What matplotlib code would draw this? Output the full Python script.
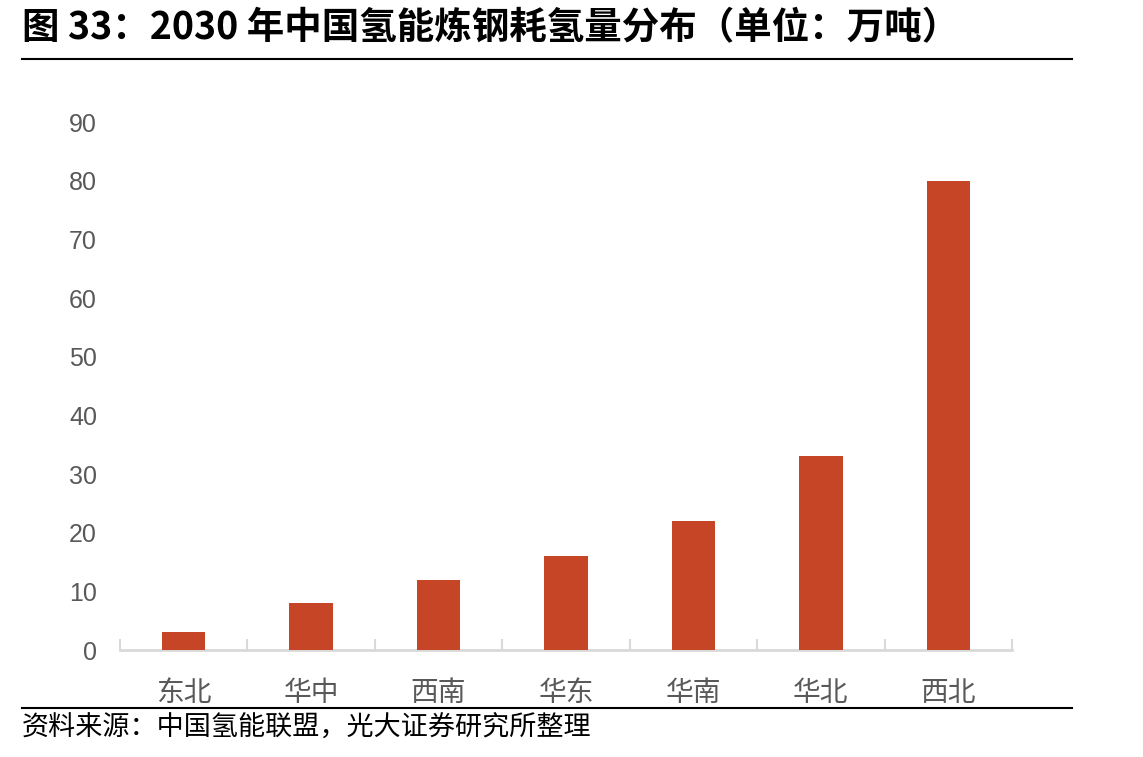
import matplotlib
matplotlib.use("Agg")
import matplotlib.pyplot as plt
from matplotlib.lines import Line2D
import numpy as np

plt.rcParams['font.family'] = ['Noto Sans CJK SC', 'DejaVu Sans']

categories = ["东北", "华中", "西南", "华东", "华南", "华北", "西北"]
values = [3, 8, 12, 16, 22, 33, 80]
yticks = [0, 10, 20, 30, 40, 50, 60, 70, 80, 90]

W, H = 1143, 757
fig = plt.figure(figsize=(W / 100, H / 100), dpi=100)
ax = fig.add_axes([120 / W, 1 - 650 / H, (1012 - 120) / W, (650 - 122) / H])

x = np.arange(len(categories))
ax.bar(x, values, width=0.34, color="#C64527", zorder=3)
ax.set_xlim(-0.5, len(categories) - 0.5)
ax.set_ylim(0, 90)
ax.set_yticks(yticks)
ax.set_yticklabels([str(v) for v in yticks], fontsize=18, color="#595959",
                   family=["Liberation Sans", "DejaVu Sans"])
ax.set_xticks(x)
ax.set_xticklabels(categories, fontsize=20, color="#595959")
ax.tick_params(axis="y", length=0, pad=16.5)
ax.tick_params(axis="x", length=0, pad=20)
ax.set_xticks(np.arange(-0.5, len(categories), 1.0), minor=True)
ax.tick_params(axis="x", which="minor", direction="in", length=8, width=1.5, color="#D9D9D9")
for s in ["top", "right", "left"]:
    ax.spines[s].set_visible(False)
ax.spines["bottom"].set_color("#D9D9D9")
ax.spines["bottom"].set_linewidth(2)

fig.text(22 / W, 1 - 28 / H, "图 33：2030 年中国氢能炼钢耗氢量分布（单位：万吨）",
         fontsize=27, fontweight="bold", color="black", ha="left", va="center")
fig.add_artist(Line2D([22 / W, 1072 / W], [1 - 59 / H, 1 - 59 / H], color="black", lw=1.5))
fig.add_artist(Line2D([22 / W, 1072 / W], [1 - 708 / H, 1 - 708 / H], color="black", lw=1.5))
fig.text(22 / W, 1 - 728 / H, "资料来源：中国氢能联盟，光大证券研究所整理",
         fontsize=19.5, color="black", ha="left", va="center")

fig.savefig("out.png", dpi=100)
